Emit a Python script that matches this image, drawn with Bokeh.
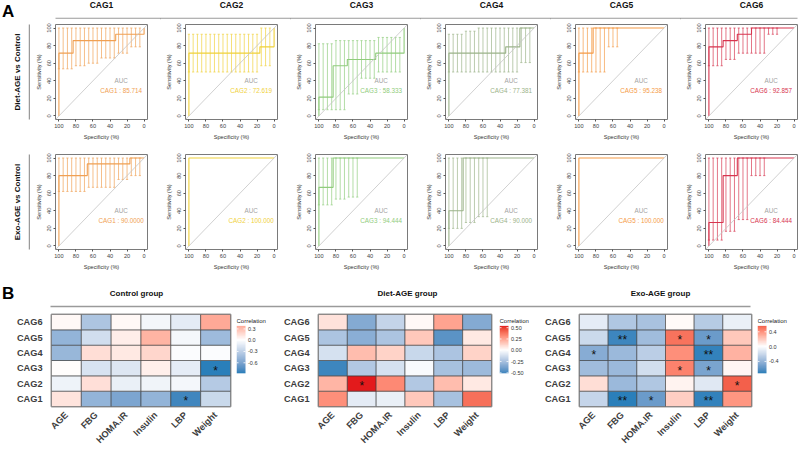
import math
import numpy as np
from bokeh.plotting import figure
from bokeh.layouts import row, column
from bokeh.models import (Range1d, FixedTicker, ColumnDataSource, LinearColorMapper,
                          Div, FactorRange, Slope)
from bokeh.transform import transform
from bokeh.core.properties import value
from bokeh.embed import file_html
from bokeh.resources import INLINE

FONT = "Liberation Sans"

# ---------------- data: ROC panels ----------------
CAGS = ["CAG1", "CAG2", "CAG3", "CAG4", "CAG5", "CAG6"]
CAG_COLORS = ["#F0A053", "#F0D13A", "#90CC7C", "#9BB389", "#F59A45", "#D7354F"]
ROW_TITLES = ["Diet-AGE vs Control", "Exo-AGE vs Control"]

CI_SPEC = [100, 95, 90, 85, 80, 75, 70, 65, 60, 55, 50, 45, 40, 35, 30, 25, 20, 15, 10, 5]

# Diet-AGE vs Control (specificity %, sensitivity %)
DIET_CAG1_SPEC = [100, 100, 83.33, 83.33, 33.33, 33.33, 0, 0]
DIET_CAG1_SENS = [0, 71.43, 71.43, 85.71, 85.71, 92.86, 92.86, 100]
DIET_CAG1_LO = [53.6, 53.6, 53.6, 53.6, 57.1, 57.1, 57.1, 60.0, 60.0, 60.0, 65.9, 65.9, 65.9, 65.9, 71.4, 71.4, 71.4, 78.6, 78.6, 78.6]
DIET_CAG1_HI = [100] * 20

DIET_CAG2_SPEC = [100, 100, 16.67, 16.67, 0, 0]
DIET_CAG2_SENS = [0, 71.43, 71.43, 78.57, 78.57, 100]
DIET_CAG2_LO = [50.0] * 17 + [57.1, 57.1, 57.1]
DIET_CAG2_HI = [92.9] * 17 + [100, 100, 100]

DIET_CAG3_SPEC = [100, 100, 83.33, 83.33, 66.67, 66.67, 33.33, 33.33, 0, 0]
DIET_CAG3_SENS = [0, 21.43, 21.43, 57.14, 57.14, 64.29, 64.29, 71.43, 71.43, 100]
DIET_CAG3_LO = [7.1, 7.1, 7.1, 7.1, 7.1, 7.1, 7.1, 25.0, 25.0, 25.0, 42.9, 42.9, 42.9, 42.9, 50.0, 50.0, 50.0, 50.0, 50.0, 50.0]
DIET_CAG3_HI = [82.1, 82.1, 82.1, 82.1, 85.7, 85.7, 85.7, 85.7, 85.7, 85.7, 85.7, 85.7, 85.7, 85.7, 89.3, 89.3, 89.3, 89.3, 89.3, 89.3]

DIET_CAG4_SPEC = [100, 100, 33.33, 33.33, 16.67, 16.67, 0]
DIET_CAG4_SENS = [0, 71.43, 71.43, 78.57, 78.57, 100, 100]
DIET_CAG4_LO = [50.0] * 17 + [60.7, 60.7, 60.7]
DIET_CAG4_HI = [92.9, 92.9, 92.9, 92.9, 96.4, 96.4, 96.4] + [100] * 13

DIET_CAG5_SPEC = [100, 100, 83.33, 83.33, 0]
DIET_CAG5_SENS = [0, 71.43, 71.43, 100, 100]
DIET_CAG5_LO = [50.0] * 7 + [78.6, 78.6, 78.6] + [100] * 10
DIET_CAG5_HI = [100] * 20

DIET_CAG6_SPEC = [100, 100, 83.33, 83.33, 66.67, 66.67, 50, 50, 0]
DIET_CAG6_SENS = [0, 78.57, 78.57, 85.71, 85.71, 92.86, 92.86, 100, 100]
DIET_CAG6_LO = [57.1] * 4 + [64.3] * 3 + [71.4] * 7 + [92.9] * 3 + [100] * 3
DIET_CAG6_HI = [100] * 20

# Exo-AGE vs Control
EXO_CAG1_SPEC = [100, 100, 66.67, 66.67, 16.67, 16.67, 0]
EXO_CAG1_SENS = [0, 80.0, 80.0, 93.33, 93.33, 100, 100]
EXO_CAG1_LO = [62.0] * 7 + [66.7] * 7 + [75.6] * 3 + [80.0] * 3
EXO_CAG1_HI = [100] * 20

EXO_CAG2_SPEC = [100, 100, 0]
EXO_CAG2_SENS = [0, 100, 100]
EXO_CAG2_LO = [100] * 20
EXO_CAG2_HI = [100] * 20

EXO_CAG3_SPEC = [100, 100, 83.33, 83.33, 0]
EXO_CAG3_SENS = [0, 66.67, 66.67, 100, 100]
EXO_CAG3_LO = [46.7] * 4 + [53.3] * 3 + [55.6] * 3 + [100] * 10
EXO_CAG3_HI = [100] * 20

EXO_CAG4_SPEC = [100, 100, 83.33, 83.33, 0]
EXO_CAG4_SENS = [0, 40.0, 40.0, 100, 100]
EXO_CAG4_LO = [20.0] * 4 + [26.7] * 3 + [33.3] * 3 + [100] * 10
EXO_CAG4_HI = [100] * 20

EXO_CAG5_SPEC = [100, 100, 0]
EXO_CAG5_SENS = [0, 100, 100]
EXO_CAG5_LO = [100] * 20
EXO_CAG5_HI = [100] * 20

EXO_CAG6_SPEC = [100, 100, 83.33, 83.33, 66.67, 66.67, 0]
EXO_CAG6_SENS = [0, 26.67, 26.67, 80.0, 80.0, 100, 100]
EXO_CAG6_LO = [6.7] * 4 + [16.7] * 3 + [30.0] * 3 + [80.0] * 4 + [100] * 6
EXO_CAG6_HI = [100] * 20

DIET_AUC_LABELS = ["85.714", "72.619", "58.333", "77.381", "95.238", "92.857"]
EXO_AUC_LABELS = ["90.0000", "100.000", "94.444", "90.000", "100.000", "84.444"]

# ---------------- data: correlation heatmaps ----------------
HM_COLS = ["AGE", "FBG", "HOMA.IR", "Insulin", "LBP", "Weight"]
HM_ROWS = ["CAG1", "CAG2", "CAG3", "CAG4", "CAG5", "CAG6"]
HM_TITLES = ["Control group", "Diet-AGE group", "Exo-AGE group"]

CTRL_CAG1 = [0.12, -0.50, -0.60, -0.50, -0.82, -0.25]
CTRL_CAG2 = [-0.08, 0.14, -0.10, -0.07, -0.05, -0.35]
CTRL_CAG3 = [0.01, -0.18, -0.16, 0.07, -0.12, -0.88]
CTRL_CAG4 = [-0.48, 0.15, 0.10, 0.18, -0.02, -0.02]
CTRL_CAG5 = [-0.50, -0.22, 0.08, 0.33, -0.05, -0.45]
CTRL_CAG6 = [0.03, -0.38, 0.03, -0.06, -0.13, 0.38]
CTRL_SIG = [["", "", "", "", "*", ""], ["", "", "", "", "", ""], ["", "", "", "", "", "*"],
            ["", "", "", "", "", ""], ["", "", "", "", "", ""], ["", "", "", "", "", ""]]

DIET_CAG1 = [0.30, -0.08, -0.06, 0.15, -0.25, 0.38]
DIET_CAG2 = [0.20, 0.54, 0.32, -0.22, 0.18, 0.06]
DIET_CAG3 = [-0.51, -0.22, -0.12, -0.02, -0.25, -0.28]
DIET_CAG4 = [-0.12, 0.18, 0.12, -0.16, -0.24, 0.12]
DIET_CAG5 = [-0.24, -0.33, -0.24, 0.15, -0.45, 0.06]
DIET_CAG6 = [0.08, -0.35, -0.17, 0.02, 0.25, -0.35]
DIET_SIG = [["", "", "", "", "", ""], ["", "*", "", "", "", ""], ["", "", "", "", "", ""],
            ["", "", "", "", "", ""], ["", "", "", "", "", ""], ["", "", "", "", "", ""]]

EXO_CAG1 = [-0.22, -0.72, -0.55, 0.18, -0.70, 0.38]
EXO_CAG2 = [0.12, -0.38, -0.30, 0.04, -0.12, 0.56]
EXO_CAG3 = [-0.36, -0.38, -0.18, 0.45, -0.50, 0.03]
EXO_CAG4 = [-0.45, -0.38, -0.26, 0.40, -0.70, 0.28]
EXO_CAG5 = [-0.20, -0.68, -0.36, 0.50, -0.55, 0.20]
EXO_CAG6 = [-0.10, -0.30, -0.33, 0.02, -0.28, -0.08]
EXO_SIG = [["", "**", "*", "", "**", ""], ["", "", "", "", "", "*"], ["", "", "", "*", "*", ""],
           ["*", "", "", "", "**", ""], ["", "**", "", "*", "*", ""], ["", "", "", "", "", ""]]

CB_TICKS = [[-0.6, -0.3, 0.0, 0.3], [-0.5, -0.25, 0.0, 0.25, 0.5], [-0.4, 0.0, 0.4]]
CB_FORMATS = ["%.1f", "%.2f", "%.1f"]

# ---------------- layout constants (pixels) ----------------
RL_W = 30                 # row-label strip
P = 130                   # ROC figure pitch
LB, FW = 25, 92           # ROC left border, frame width
FH, BOT = 95, 23          # ROC frame height, bottom border
TOPS = [6, 12]
HDR_A_H = 18
HDR_B_H, B_W = 36, 50
HDR_B_TITLE_X = [136, 407, 660]
HDR_B_FRAME = (50, 750)
HM_H, HM_TOP, HM_BOT, HM_FW = 143, 6, 40, 179
HM_LB = [51, 32, 31]
HM_RB = [6, 8, 6]
LEG_W = [44, 42, 41]
LEG_BAR_OFF, LEG_BAR_H, LEG_BAR_W = 12, 50, 9


# ---------------- colour palette (Lab interpolation blue-white-red) ----------------
_M = np.array([[0.4124, 0.3576, 0.1805], [0.2126, 0.7152, 0.0722], [0.0193, 0.1192, 0.9505]])
_WP = np.array([0.95047, 1.0, 1.08883])


def _to_lab(h):
    c = np.array([int(h[i:i + 2], 16) for i in (1, 3, 5)]) / 255.0
    c = np.where(c <= 0.04045, c / 12.92, ((c + 0.055) / 1.055) ** 2.4)
    xyz = _M @ c / _WP
    d = 6 / 29
    f = np.where(xyz > d ** 3, np.cbrt(xyz), xyz / (3 * d * d) + 4 / 29)
    return np.array([116 * f[1] - 16, 500 * (f[0] - f[1]), 200 * (f[1] - f[2])])


def _from_lab(lab):
    d = 6 / 29
    fy = (lab[0] + 16) / 116
    f = np.array([fy + lab[1] / 500, fy, fy - lab[2] / 200])
    xyz = np.where(f > d, f ** 3, 3 * d * d * (f - 4 / 29)) * _WP
    c = np.clip(np.linalg.inv(_M) @ xyz, 0, 1)
    c = np.where(c <= 0.0031308, 12.92 * c, 1.055 * c ** (1 / 2.4) - 0.055)
    c = np.clip(np.round(c * 255), 0, 255).astype(int)
    return "#%02x%02x%02x" % tuple(c)


LOW_C, MID_C, HIGH_C = "#2A7FBA", "#FFFFFF", "#E31A1C"
_l, _m, _h = _to_lab(LOW_C), _to_lab(MID_C), _to_lab(HIGH_C)
PAL = []
for t in np.linspace(0, 1, 256):
    if t <= 0.5:
        PAL.append(_from_lab(_l + (_m - _l) * (t / 0.5)))
    else:
        PAL.append(_from_lab(_m + (_h - _m) * ((t - 0.5) / 0.5)))


# ---------------- builders ----------------
def style_blank(p):
    p.xgrid.visible = False
    p.ygrid.visible = False
    p.outline_line_color = None


def roc_fig(spec, sens, lo, hi, color, cag, auc_label, top, width):
    p = figure(width=width, height=top + FH + BOT, x_range=Range1d(104, -4), y_range=Range1d(-4, 104),
               toolbar_location=None, output_backend="svg",
               min_border_left=LB, min_border_right=width - LB - FW, min_border_top=top, min_border_bottom=BOT)
    p.xgrid.visible = False
    p.ygrid.visible = False
    p.outline_line_color = "#7a7a7a"
    p.outline_line_width = 1
    p.add_layout(Slope(gradient=-1, y_intercept=100, line_color="#c4c4c4", line_width=0.8))
    s = np.array(CI_SPEC, dtype=float)
    lo = np.array(lo, dtype=float)
    hi = np.array(hi, dtype=float)
    k = hi > lo
    cw = 1.3
    kw = dict(line_color=color, line_alpha=0.85, line_width=0.8)
    p.segment(x0=s[k], y0=lo[k], x1=s[k], y1=hi[k], **kw)
    p.segment(x0=s[k] - cw, y0=lo[k], x1=s[k] + cw, y1=lo[k], **kw)
    p.segment(x0=s[k] - cw, y0=hi[k], x1=s[k] + cw, y1=hi[k], **kw)
    p.line(spec, sens, line_color=color, line_width=1.1)
    p.text(x=[27], y=[40], text=["AUC"], text_color="#a3a3a3", text_font=value(FONT),
           text_font_size="6.3px", text_align="center", text_baseline="middle")
    p.text(x=[27], y=[29.5], text=[f"{cag} : {auc_label}"], text_color=color, text_font=value(FONT),
           text_font_size="6.3px", text_align="center", text_baseline="middle")
    p.xaxis.ticker = FixedTicker(ticks=[0, 20, 40, 60, 80, 100])
    p.yaxis.ticker = FixedTicker(ticks=[0, 20, 40, 60, 80, 100])
    p.xaxis.axis_label = "Specificity (%)"
    p.yaxis.axis_label = "Sensitivity (%)"
    p.yaxis.major_label_orientation = "vertical"
    for ax in (p.xaxis[0], p.yaxis[0]):
        ax.axis_line_color = None
        ax.major_tick_out = 2
        ax.major_tick_in = 0
        ax.major_tick_line_color = "#555555"
        ax.minor_tick_line_color = None
        ax.major_label_text_font = FONT
        ax.major_label_text_font_size = "5.6px"
        ax.major_label_text_color = "#444444"
        ax.major_label_standoff = 2
        ax.axis_label_text_font = FONT
        ax.axis_label_text_font_size = "5.6px"
        ax.axis_label_text_font_style = "normal"
        ax.axis_label_text_color = "#333333"
        ax.axis_label_standoff = 3
    return p


def row_label_fig(label, top):
    p = figure(width=RL_W, height=top + FH + BOT, x_range=Range1d(0, 1), y_range=Range1d(0, 1),
               toolbar_location=None, output_backend="svg", x_axis_location=None,
               min_border_left=RL_W - 1, min_border_right=0, min_border_top=top, min_border_bottom=BOT)
    style_blank(p)
    ax = p.yaxis[0]
    ax.ticker = FixedTicker(ticks=[])
    ax.axis_label = label
    ax.axis_label_text_font = FONT
    ax.axis_label_text_font_size = "8px"
    ax.axis_label_text_font_style = "bold"
    ax.axis_label_text_color = "#111111"
    ax.axis_label_standoff = 8
    ax.major_tick_line_color = None
    ax.major_label_standoff = 0
    ax.axis_line_color = "#9a9a9a"
    ax.axis_line_width = 1.5
    return p


def header_fig(width, height, xr, ticks, labels, lb, rb, fs):
    p = figure(width=width, height=height, x_range=xr, y_range=Range1d(0, 1),
               toolbar_location=None, output_backend="svg", x_axis_location="above",
               y_axis_location=None, min_border_left=lb, min_border_right=rb,
               min_border_top=height - 2, min_border_bottom=0)
    style_blank(p)
    ax = p.xaxis[0]
    ax.ticker = FixedTicker(ticks=ticks)
    ax.major_label_overrides = {t: l for t, l in zip(ticks, labels)}
    ax.major_tick_line_color = None
    ax.minor_tick_line_color = None
    ax.major_label_standoff = 3
    ax.major_label_text_font = FONT
    ax.major_label_text_font_size = fs
    ax.major_label_text_font_style = "bold"
    ax.major_label_text_color = "#111111"
    ax.axis_line_color = "#9a9a9a"
    ax.axis_line_width = 1.5
    return p


def letter_div(letter, w, h, pad_top, pad_left):
    return Div(text=('<div style="font-family:\'Liberation Sans\';font-weight:bold;font-size:17px;'
                     'line-height:17px;padding-top:%dpx;padding-left:%dpx;color:#000">%s</div>'
                     % (pad_top, pad_left, letter)),
               width=w, height=h, margin=0)


def heat_figs(rows_vals, sig, ticks, fmt, lb, rb, leg_w):
    vals = np.array(rows_vals, dtype=float)
    xs, ys, vs, ss = [], [], [], []
    for i, r in enumerate(HM_ROWS):
        for j, c in enumerate(HM_COLS):
            xs.append(c)
            ys.append(r)
            vs.append(vals[i, j])
            ss.append(sig[i][j])
    src = ColumnDataSource(dict(x=xs, y=ys, v=vs, sig=ss))
    m = float(np.abs(vals).max())
    mapper = LinearColorMapper(palette=PAL, low=-m, high=m)
    p = figure(width=lb + HM_FW + rb, height=HM_H, x_range=FactorRange(*HM_COLS), y_range=FactorRange(*HM_ROWS),
               toolbar_location=None, output_backend="svg",
               min_border_left=lb, min_border_right=rb, min_border_top=HM_TOP, min_border_bottom=HM_BOT)
    p.xgrid.visible = False
    p.ygrid.visible = False
    p.outline_line_color = "#999999"
    p.outline_line_width = 2
    p.rect(x="x", y="y", width=1, height=1, source=src, fill_color=transform("v", mapper),
           line_color="#3a3a3a", line_width=0.6)
    p.text(x="x", y="y", text="sig", source=src, text_align="center", text_baseline="middle",
           text_font=value(FONT), text_font_size="12px", text_color="#111111", y_offset=2.5)
    p.xaxis.major_label_orientation = math.pi / 4
    for ax in (p.xaxis[0], p.yaxis[0]):
        ax.axis_line_color = None
        ax.major_tick_line_color = None
        ax.minor_tick_line_color = None
        ax.major_label_text_font = FONT
        ax.major_label_text_font_size = "9.2px"
        ax.major_label_text_font_style = "bold"
        ax.major_label_text_color = "#3d3d3d"
        ax.major_label_standoff = 3
    p.xaxis.major_label_standoff = 1

    # colour legend: a small figure sharing the heatmap's borders; the bar sits in its upper part
    lo, hi = float(vals.min()), float(vals.max())
    per_px = (hi - lo) / LEG_BAR_H
    frame_h = HM_H - HM_TOP - HM_BOT
    y_hi = hi + LEG_BAR_OFF * per_px
    y_lo = y_hi - frame_h * per_px
    q = figure(width=leg_w, height=HM_H, x_range=Range1d(0, leg_w), y_range=Range1d(y_lo, y_hi),
               toolbar_location=None, output_backend="svg", x_axis_location=None, y_axis_location=None,
               min_border_left=0, min_border_right=0, min_border_top=HM_TOP, min_border_bottom=HM_BOT)
    style_blank(q)
    q.image(image=[np.linspace(lo, hi, 200)[:, None]], x=0, y=lo, dw=LEG_BAR_W, dh=hi - lo,
            color_mapper=mapper)
    tk = np.array(ticks, dtype=float)
    q.segment(x0=np.zeros_like(tk), y0=tk, x1=np.zeros_like(tk) + 2, y1=tk, line_color="white", line_width=0.8)
    q.segment(x0=np.zeros_like(tk) + LEG_BAR_W - 2, y0=tk, x1=np.zeros_like(tk) + LEG_BAR_W, y1=tk,
              line_color="white", line_width=0.8)
    q.text(x=np.zeros_like(tk) + LEG_BAR_W + 2.5, y=tk, text=[fmt % t for t in ticks],
           text_font=value(FONT), text_font_size="5.5px", text_color="#333333",
           text_align="left", text_baseline="middle")
    q.text(x=[0], y=[hi + 2 * per_px], text=["Correlation"], text_font=value(FONT),
           text_font_size="6px", text_color="#222222", text_align="left", text_baseline="bottom")
    return p, q


# ---------------- assemble ----------------
DIET_SPECS = [DIET_CAG1_SPEC, DIET_CAG2_SPEC, DIET_CAG3_SPEC, DIET_CAG4_SPEC, DIET_CAG5_SPEC, DIET_CAG6_SPEC]
DIET_SENS = [DIET_CAG1_SENS, DIET_CAG2_SENS, DIET_CAG3_SENS, DIET_CAG4_SENS, DIET_CAG5_SENS, DIET_CAG6_SENS]
DIET_LOS = [DIET_CAG1_LO, DIET_CAG2_LO, DIET_CAG3_LO, DIET_CAG4_LO, DIET_CAG5_LO, DIET_CAG6_LO]
DIET_HIS = [DIET_CAG1_HI, DIET_CAG2_HI, DIET_CAG3_HI, DIET_CAG4_HI, DIET_CAG5_HI, DIET_CAG6_HI]
EXO_SPECS = [EXO_CAG1_SPEC, EXO_CAG2_SPEC, EXO_CAG3_SPEC, EXO_CAG4_SPEC, EXO_CAG5_SPEC, EXO_CAG6_SPEC]
EXO_SENS = [EXO_CAG1_SENS, EXO_CAG2_SENS, EXO_CAG3_SENS, EXO_CAG4_SENS, EXO_CAG5_SENS, EXO_CAG6_SENS]
EXO_LOS = [EXO_CAG1_LO, EXO_CAG2_LO, EXO_CAG3_LO, EXO_CAG4_LO, EXO_CAG5_LO, EXO_CAG6_LO]
EXO_HIS = [EXO_CAG1_HI, EXO_CAG2_HI, EXO_CAG3_HI, EXO_CAG4_HI, EXO_CAG5_HI, EXO_CAG6_HI]

widths = [P] * 5 + [LB + FW + 1]
hdrA_w = sum(widths)
hdrA_frame = 5 * P + FW
divA = letter_div("A", RL_W, HDR_A_H, 3, 2)
hdrA = header_fig(hdrA_w, HDR_A_H, Range1d(-FW / (2 * P), 5 + FW / (2 * P)), list(range(6)), CAGS,
                  LB, hdrA_w - LB - hdrA_frame, "8.5px")

row1 = [row_label_fig(ROW_TITLES[0], TOPS[0])]
row2 = [row_label_fig(ROW_TITLES[1], TOPS[1])]
for i in range(6):
    row1.append(roc_fig(DIET_SPECS[i], DIET_SENS[i], DIET_LOS[i], DIET_HIS[i], CAG_COLORS[i], CAGS[i],
                        DIET_AUC_LABELS[i], TOPS[0], widths[i]))
    row2.append(roc_fig(EXO_SPECS[i], EXO_SENS[i], EXO_LOS[i], EXO_HIS[i], CAG_COLORS[i], CAGS[i],
                        EXO_AUC_LABELS[i], TOPS[1], widths[i]))

heat_parts = []
HM_DATA = [[CTRL_CAG1, CTRL_CAG2, CTRL_CAG3, CTRL_CAG4, CTRL_CAG5, CTRL_CAG6],
           [DIET_CAG1, DIET_CAG2, DIET_CAG3, DIET_CAG4, DIET_CAG5, DIET_CAG6],
           [EXO_CAG1, EXO_CAG2, EXO_CAG3, EXO_CAG4, EXO_CAG5, EXO_CAG6]]
HM_SIGS = [CTRL_SIG, DIET_SIG, EXO_SIG]
for k in range(3):
    hp, lp = heat_figs(HM_DATA[k], HM_SIGS[k], CB_TICKS[k], CB_FORMATS[k], HM_LB[k], HM_RB[k], LEG_W[k])
    heat_parts += [hp, lp]
total_w = sum(HM_LB) + sum(HM_RB) + 3 * HM_FW + sum(LEG_W)

hdrB_w = total_w - B_W
hdrB = header_fig(hdrB_w, HDR_B_H, Range1d(*HDR_B_FRAME), HDR_B_TITLE_X, HM_TITLES,
                  HDR_B_FRAME[0] - B_W, total_w - HDR_B_FRAME[1], "8px")
divB = letter_div("B", B_W, HDR_B_H, 13, 2)

layout = column(row(divA, hdrA), row(*row1), row(*row2), row(divB, hdrB), row(*heat_parts))

open("out.html", "w").write(file_html(layout, INLINE))
